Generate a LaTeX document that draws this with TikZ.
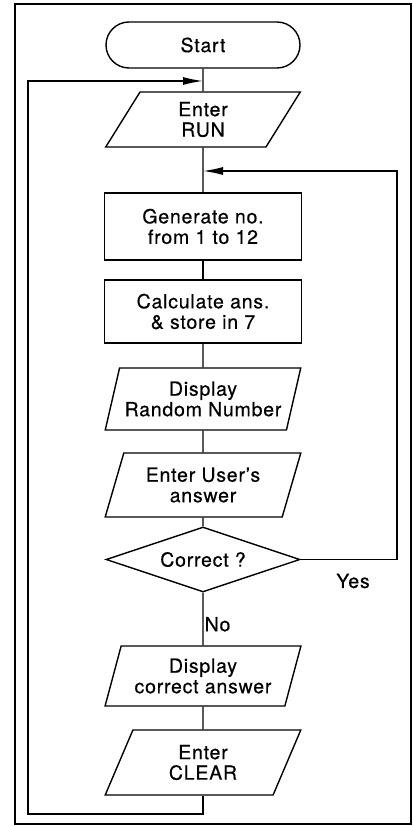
\documentclass[tikz,border=0pt]{standalone}
\usepackage{fontspec}
\setsansfont{TeX Gyre Heros}[LetterSpace=4, FakeBold=0.4]
\usetikzlibrary{shapes.geometric, arrows.meta}

\begin{document}
\begin{tikzpicture}[x=1pt, y=-1pt, line width=1.4pt,
        every node/.style={font=\sffamily\fontsize{19.5}{20.5}\selectfont, align=center},
        term/.style={draw, rectangle, rounded corners=23pt, minimum width=194pt, minimum height=46pt},
        io/.style={draw, trapezium, trapezium left angle=69, trapezium right angle=111,
            trapezium stretches=true, minimum width=196pt, inner sep=0pt},
        process/.style={draw, rectangle, minimum width=197pt},
        decision/.style={draw, diamond, aspect=3, minimum width=194pt, minimum height=65pt, inner sep=0pt},
        flow/.style={-{Latex[length=20pt, width=8pt]}}]
        \useasboundingbox (0,0) rectangle (412,826);
        \draw[line width=2.4pt] (15,4) rectangle (411,824);

        \node[term] at (203,45) (start) {Start};
        \node[io, minimum height=55pt] at (203,119.5) (run) {Enter\\RUN};
        \node[process, minimum height=67pt] at (203,226.5) (gen) {Generate no.\\from 1 to 12};
        \node[process, minimum height=63pt] at (203,311.5) (calc) {Calculate ans.\\\& store in 7};
        \node[io, minimum height=62pt] at (203,399) (rand) {Display\\Random Number};
        \node[io, minimum height=64pt] at (203,485) (user) {Enter User’s\\answer};
        \node[decision] at (203,559.5) (check) {Correct ?};
        \node[io, minimum height=60pt] at (203,676) (show) {Display\\correct answer};
        \node[io, minimum height=65pt] at (203,762.5) (clear) {Enter\\CLEAR};
        \node at (353,581) (yes) {Yes};

        \coordinate (join1) at (203,81);
        \coordinate (join2) at (203,171);
        \coordinate (loopl) at (28,814);
        \coordinate (loopr) at (397,171);

        \draw (start) -- (run);
        \draw (run) -- (gen);
        \draw (gen) -- (calc);
        \draw (calc) -- (rand);
        \draw (rand) -- (user);
        \draw (user) -- (check);
        \draw (check) -- node[pos=0.6, right, inner sep=1pt] (no) {No} (show);
        \draw (show) -- (clear);

        \draw[flow] (check) -| (loopr) -- (join2);
        \draw[flow] (clear) |- (loopl) |- (join1);
    \end{tikzpicture}
\end{document}
